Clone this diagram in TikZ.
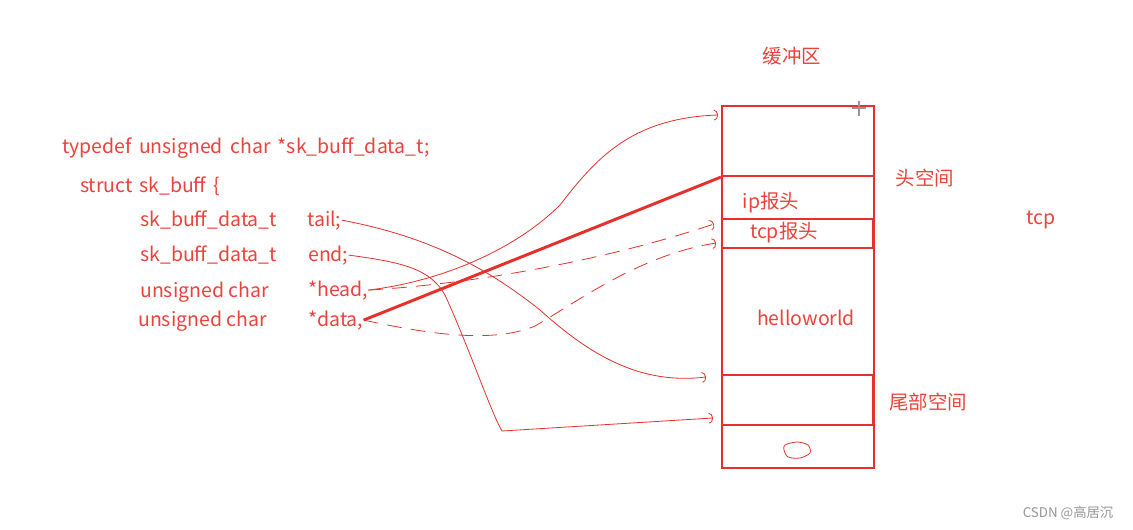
\documentclass[tikz,border=0pt]{standalone}
\usepackage{fontspec}
\newfontfamily\cjk{Noto Sans CJK SC}
\usetikzlibrary{arrows.meta,fit}
\definecolor{pen}{RGB}{230,48,44}
\definecolor{ink}{RGB}{236,66,60}
\definecolor{greyink}{RGB}{150,150,150}
\begin{document}
\begin{tikzpicture}[x=0.75pt,y=-0.75pt,
  txt/.style={font=\cjk\fontsize{14.6pt}{17pt}\selectfont, text=ink, inner sep=0pt},
  code/.style={txt, anchor=base west},
  box/.style={draw=pen, inner sep=0pt, line width=2.2pt},
  wire/.style={draw=pen, line width=0.6pt, -{Arc Barb[length=3pt,width=8pt]}},
  dwire/.style={wire, dash pattern=on 11pt off 7pt},
  ]
\useasboundingbox[fill=white] (0,0) rectangle (1133,529);

% code text
\node[code] (typedef) at (62,153) {typedef\hspace{5.5pt}unsigned\hspace{5.5pt}char\hspace{5.5pt}*sk\_buff\_data\_t;};
\node[code] (struct) at (80,192) {struct\hspace{5pt}sk\_buff\hspace{5pt}\{};
\node[code] (t1) at (140,226) {sk\_buff\_data\_t};
\node[code] (tail) at (307,226) {tail;};
\node[code] (t2) at (140,261) {sk\_buff\_data\_t};
\node[code] (endp) at (308,261) {end;};
\node[code] (t3) at (140,297) {unsigned char};
\node[code] (head) at (308,296) {*head,};
\node[code] (t4) at (138,326) {unsigned char};
\node[code] (data) at (308,326) {*data,};

% buffer
\coordinate (b1) at (722,106);
\coordinate (b2) at (874,468);
\coordinate (h2) at (874,176);
\coordinate (c1) at (722,219);
\coordinate (c2) at (873,248);
\coordinate (r1) at (722,375);
\coordinate (r2) at (873,425);
\node[box, fit=(b1)(b2)] (buffer) {};
\node[box, line width=1.6pt, fit=(b1)(h2)] (headroom) {};
\node[box, fit=(c1)(c2)] (tcpbox) {};
\node[box, fit=(r1)(r2)] (tailroom) {};

\node[txt] (title) at (792,56) {缓冲区};
\node[txt] (hs) at (925,178) {头空间};
\node[txt] (ip) at (771,203) {ip报头};
\node[txt] (tcph) at (784,233) {tcp报头};
\node[txt] (hw) at (806,318) {helloworld};
\node[txt] (ts) at (928,402) {尾部空间};
\node[txt] (tcp) at (1041,220) {tcp};
\node[font=\cjk\fontsize{10pt}{12pt}\selectfont, text=greyink, inner sep=0pt] (wm) at (1068,513) {CSDN @高居沉};

% small loop and cursor
\draw[pen, line width=0.6pt] plot[smooth cycle] coordinates {(785,445) (797,442) (808,445) (810,453) (800,458) (788,457) (784,450)};
\draw[greyink, line width=0.8pt] (852,108) -- (866,108) (859,101) -- (859,116);

% arrow ends
\coordinate (hd) at (718,115);
\coordinate (tl) at (706,377);
\coordinate (en) at (713,418);
\coordinate (tp1) at (714,224);
\coordinate (tp2) at (716,243);

% connectors
\draw[wire] (head.east) .. controls (450,280) and (520,245) .. (560,205) .. controls (595,160) and (630,118) .. (hd);
\draw[wire] (tail.east) .. controls (420,235) and (480,262) .. (540,310) .. controls (590,355) and (640,385) .. (tl);
\draw[wire] (endp.east) .. controls (400,262) and (430,268) .. (445,295) .. controls (470,350) and (490,410) .. (502,431) -- (en);
\draw[dwire] (head.east) .. controls (470,284) and (600,262) .. (tp1);
\draw[dwire] (data.east) .. controls (420,332) and (490,345) .. (535,326) .. controls (580,300) and (640,255) .. (tp2);
\draw[pen, line width=2.2pt] (data.east) -- (headroom.south west);
\end{tikzpicture}
\end{document}
